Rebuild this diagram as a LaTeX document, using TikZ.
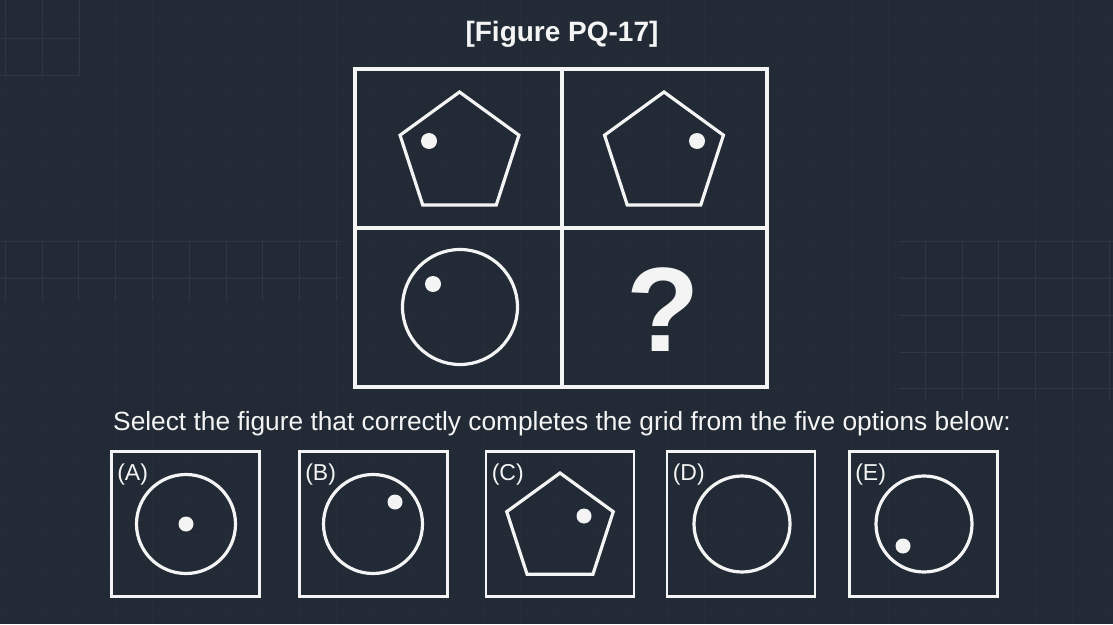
\documentclass[tikz,border=0pt]{standalone}
\usepackage{fontspec}
\setmainfont{Liberation Sans}
\usetikzlibrary{calc}
\definecolor{bg}{HTML}{212A35}
\definecolor{gridfaint}{HTML}{242D38}
\definecolor{gridc}{HTML}{2E3844}
\definecolor{fg}{HTML}{F4F4F4}
\tikzset{
  shape line/.style={draw=fg, line width=3.2pt, line join=miter},
  dot/.style={fill=fg},
  optbox/.style={draw=fg, line width=2.8pt, minimum width=148pt, minimum height=145pt, inner sep=0pt},
  optlabel/.style={text=fg, font=\fontsize{23}{25}\selectfont, anchor=base west, inner sep=0pt},
  gl/.style={draw=gridc, line width=1pt},
}
\begin{document}
\begin{tikzpicture}[x=1pt,y=-1pt]
\fill[bg] (0,0) rectangle (1113,624);
\useasboundingbox (0,0) rectangle (1113,624);
% faint background grid
\foreach \i in {0,...,30} \draw[gridfaint, line width=0.8pt] ({5.2+36.8*\i},0) -- ({5.2+36.8*\i},624);
\foreach \j in {0,...,17} \draw[gridfaint, line width=0.8pt] (0,{20.2+36.8*\j}) -- (1113,{20.2+36.8*\j});
% brighter grid patches
\begin{scope}
\clip (0,0) rectangle (80,76);
\foreach \xx in {5,42,79} \draw[gl] (\xx,0) -- (\xx,76);
\foreach \yy in {38,75} \draw[gl] (0,\yy) -- (80,\yy);
\end{scope}
\begin{scope}
\clip (0,240) rectangle (340,300);
\foreach \i in {0,...,9} \draw[gl] ({5.2+36.8*\i},240) -- ({5.2+36.8*\i},300);
\foreach \yy in {241,278} \draw[gl] (0,\yy) -- (340,\yy);
\end{scope}
\begin{scope}
\clip (900,240) rectangle (1113,400);
\foreach \i in {24,...,30} \draw[gl] ({5.2+36.8*\i},240) -- ({5.2+36.8*\i},400);
\foreach \yy in {241,278,315,352,388} \draw[gl] (900,\yy) -- (1113,\yy);
\end{scope}

% title
\node[text=fg, font=\bfseries\fontsize{28}{30}\selectfont] (title) at (562,34) {[Figure PQ-17]};

% main grid
\coordinate (gtl) at (355,69);
\coordinate (gbr) at (767,387);
\draw[shape line] (gtl) rectangle (gbr);
\coordinate (vt) at (562,69); \coordinate (vb) at (562,387);
\coordinate (hl) at (355,228); \coordinate (hr) at (767,228);
\draw[shape line] (vt) -- (vb);
\draw[shape line] (hl) -- (hr);

% cell 1: pentagon, dot upper-left
\coordinate (p1) at (459.5,154.5);
\draw[shape line] ($(p1)+(-90:62.5)$) -- ($(p1)+(-18:62.5)$) -- ($(p1)+(54:62.5)$) -- ($(p1)+(126:62.5)$) -- ($(p1)+(198:62.5)$) -- cycle;
\fill[dot] (429,141) circle[radius=8];
% cell 2: pentagon, dot upper-right
\coordinate (p2) at (664,154.5);
\draw[shape line] ($(p2)+(-90:62.5)$) -- ($(p2)+(-18:62.5)$) -- ($(p2)+(54:62.5)$) -- ($(p2)+(126:62.5)$) -- ($(p2)+(198:62.5)$) -- cycle;
\fill[dot] (697,141) circle[radius=8];
% cell 3: circle, dot upper-left
\draw[shape line] (460,307) circle[radius=57.5];
\fill[dot] (433,284) circle[radius=8];
% cell 4: question mark
\node[text=fg, font=\bfseries\fontsize{120}{122}\selectfont, inner sep=0pt] (qm) at (663,310) {?};

% prompt
\node[text=fg, font=\fontsize{26.3}{28}\selectfont, anchor=base, inner sep=0pt] (prompt) at (562,430) {Select the figure that correctly completes the grid from the five options below:};

% options
\node[optbox] (A) at (185.5,524) {};
\node[optbox] (B) at (373.5,524) {};
\node[optbox] (C) at (560,524) {};
\node[optbox] (D) at (741,524) {};
\node[optbox] (E) at (923.5,524) {};
\node[optlabel] (lA) at ($(A.north west)+(7,30)$) {(A)};
\node[optlabel] (lB) at ($(B.north west)+(7,30)$) {(B)};
\node[optlabel] (lC) at ($(C.north west)+(7,30)$) {(C)};
\node[optlabel] (lD) at ($(D.north west)+(7,30)$) {(D)};
\node[optlabel] (lE) at ($(E.north west)+(7,30)$) {(E)};

% A
\draw[shape line] (186,524) circle[radius=49.5];
\fill[dot] (186,524) circle[radius=7.5];
% B
\draw[shape line] (373,524) circle[radius=49.5];
\fill[dot] (395,502) circle[radius=7.5];
% C
\coordinate (pc) at (560,529);
\draw[shape line] ($(pc)+(-90:56)$) -- ($(pc)+(-18:56)$) -- ($(pc)+(54:56)$) -- ($(pc)+(126:56)$) -- ($(pc)+(198:56)$) -- cycle;
\fill[dot] (584,516) circle[radius=7.5];
% D
\draw[shape line] (742,524) circle[radius=48];
% E
\draw[shape line] (924,524) circle[radius=48];
\fill[dot] (903,546) circle[radius=7.5];
\end{tikzpicture}
\end{document}
